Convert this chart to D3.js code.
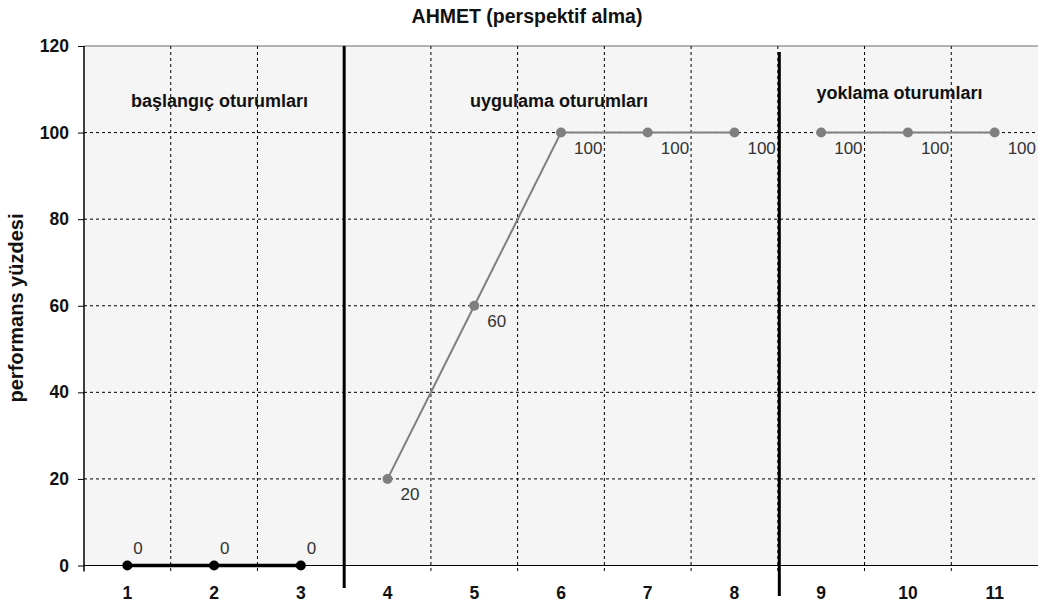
<!DOCTYPE html>
<html><head><meta charset="utf-8">
<script src="https://cdn.jsdelivr.net/npm/d3@7"></script>
<style>body{margin:0;background:#fff;} svg{display:block;font-family:"Liberation Sans",Arial,sans-serif;}</style>
</head><body>
<svg id="c" width="1039" height="610"></svg>
<script>
const sessions = ["1","2","3","4","5","6","7","8","9","10","11"];
const baselineSessions = ["1","2","3"];
const baselineValues = [0,0,0];
const interventionSessions = ["4","5","6","7","8"];
const interventionValues = [20,60,100,100,100];
const followupSessions = ["9","10","11"];
const followupValues = [100,100,100];
const yTicks = [0,20,40,60,80,100,120];
const phaseLabels = ["başlangıç oturumları","uygulama oturumları","yoklama oturumları"];
const title = "AHMET (perspektif alma)";
const yTitle = "performans yüzdesi";

const svg = d3.select("#c");
const L = 84, R = 1038, T = 46, B = 565.5;
const x = d3.scaleBand().domain(sessions).range([L, R]).padding(0);
const y = d3.scaleLinear().domain([0,120]).range([B, T]);
const cx = d => x(d) + x.bandwidth()/2;

svg.append("rect").attr("x",L).attr("y",T).attr("width",R-L).attr("height",B-T).attr("fill","#f5f5f5");
svg.append("line").attr("x1",L).attr("x2",R).attr("y1",T).attr("y2",T).attr("stroke","#9a9a9a").attr("stroke-width",1.5);

// horizontal grid
svg.append("g").selectAll("line").data(yTicks.filter(v=>v>0&&v<120)).join("line")
  .attr("x1",L).attr("x2",R).attr("y1",d=>y(d)).attr("y2",d=>y(d))
  .attr("stroke","#000").attr("stroke-width",1).attr("stroke-dasharray","3,3");
// vertical grid at band boundaries
const bounds = sessions.slice(1).map(s=>x(s));
svg.append("g").selectAll("line").data(bounds).join("line")
  .attr("x1",d=>d).attr("x2",d=>d).attr("y1",T).attr("y2",B+6)
  .attr("stroke","#000").attr("stroke-width",1).attr("stroke-dasharray","3,3");

// axes
const yAxis = d3.axisLeft(y).tickValues(yTicks).tickSize(6).tickPadding(9);
const gy = svg.append("g").attr("transform",`translate(${L},0)`).call(yAxis);
gy.select(".domain").attr("stroke","#000").attr("stroke-width",1.5).attr("d",`M0,${T}V${B+6}`);
gy.selectAll(".tick line").attr("stroke","#000");
gy.selectAll("text").attr("font-size",17.5).attr("font-weight","bold").attr("fill","#111");

const xAxis = d3.axisBottom(x).tickSize(0).tickPadding(21);
const gx = svg.append("g").attr("transform",`translate(0,${B})`).call(xAxis);
gx.select(".domain").attr("stroke","#000").attr("stroke-width",1.2).attr("d",`M${L},0H${R}`);
gx.selectAll("text").attr("font-size",17.5).attr("font-weight","bold").attr("fill","#111");

// phase separators
svg.append("line").attr("x1",x("4")).attr("x2",x("4")).attr("y1",T).attr("y2",588).attr("stroke","#000").attr("stroke-width",3);
svg.append("line").attr("x1",x("9")+1.5).attr("x2",x("9")+1.5).attr("y1",52).attr("y2",596).attr("stroke","#000").attr("stroke-width",3);

// phase labels
const phaseX = [219.5, 559, 899.5];
const phaseY = [101,101,93];
svg.append("g").selectAll("text").data(phaseLabels).join("text")
  .attr("x",(d,i)=>phaseX[i])
  .attr("y",(d,i)=>phaseY[i]).attr("dy","0.35em")
  .attr("text-anchor","middle").attr("font-size",18).attr("font-weight","bold").attr("fill","#111").text(d=>d);

// series
function series(keys, vals, color, lw, r, lblDx, lblDy){
  const data = keys.map((k,i)=>({k, v: vals[i]}));
  const line = d3.line().x(d=>cx(d.k)).y(d=>y(d.v));
  svg.append("path").datum(data).attr("d",line).attr("fill","none").attr("stroke",color).attr("stroke-width",lw);
  svg.append("g").selectAll("circle").data(data).join("circle")
    .attr("cx",d=>cx(d.k)).attr("cy",d=>y(d.v)).attr("r",r).attr("fill",color);
  svg.append("g").selectAll("text").data(data).join("text")
    .attr("x",d=>cx(d.k)+lblDx).attr("y",d=>y(d.v)+lblDy)
    .attr("font-size",17).attr("fill","#333").text(d=>d.v);
}
series(baselineSessions, baselineValues, "#000", 3.5, 5, 6, -12);
series(interventionSessions, interventionValues, "#7f7f7f", 2, 5, 13, 21);
series(followupSessions, followupValues, "#7f7f7f", 2, 5, 13, 21);

// titles
svg.append("text").attr("x",527).attr("y",16).attr("dy","0.35em").attr("text-anchor","middle")
  .attr("font-size",19.5).attr("font-weight","bold").attr("fill","#111").text(title);
svg.append("text").attr("transform","translate(16,308) rotate(-90)").attr("dy","0.35em").attr("text-anchor","middle")
  .attr("font-size",20).attr("font-weight","bold").attr("fill","#111").text(yTitle);
</script>
</body></html>
